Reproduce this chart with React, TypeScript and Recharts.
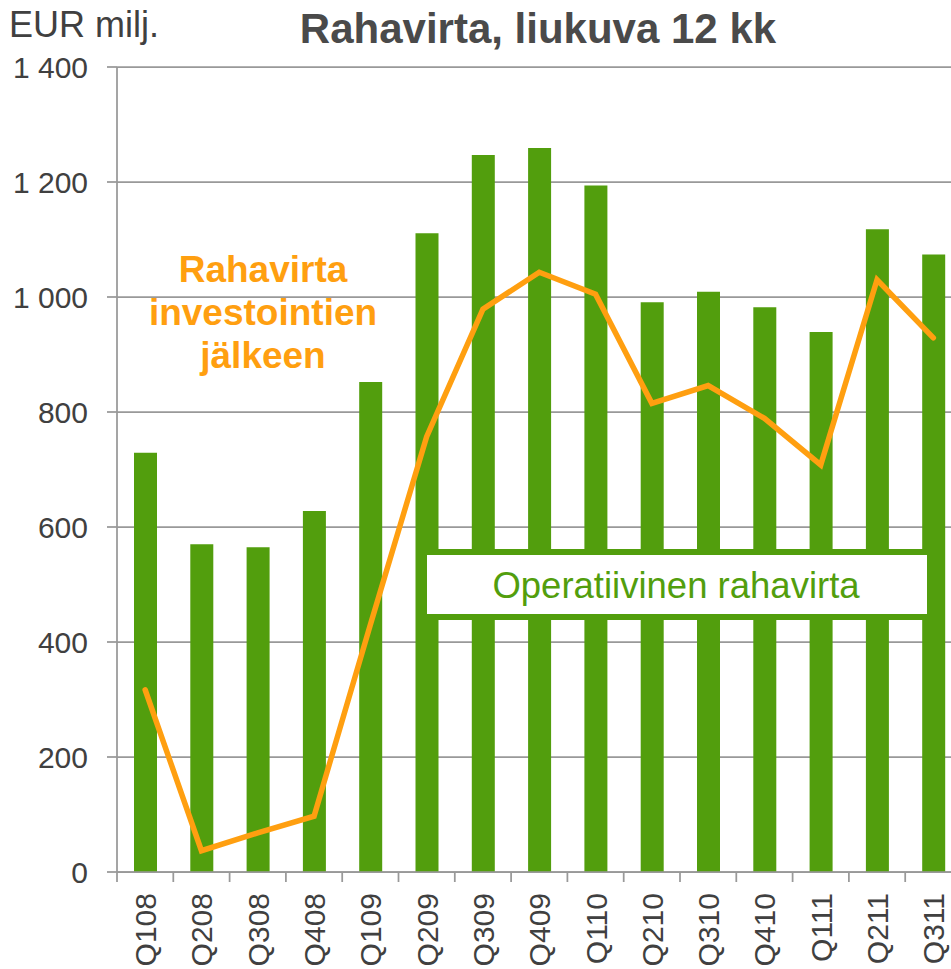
import React from "react";
import { ComposedChart, Bar, Line, XAxis, YAxis, CartesianGrid } from "recharts";

const categories = ["Q108","Q208","Q308","Q408","Q109","Q209","Q309","Q409","Q110","Q210","Q310","Q410","Q111","Q211","Q311"];
const operativeCashFlow = [729, 570, 565, 628, 852, 1111, 1247, 1259, 1194, 991, 1009, 982, 939, 1118, 1074];
const cashFlowAfterInvestments = [317, 37, 68, 97, 430, 757, 979, 1043, 1005, 815, 846, 789, 708, 1030, 929];
const yTicks = [0, 200, 400, 600, 800, 1000, 1200, 1400];

const titleText = "Rahavirta, liukuva 12 kk";
const unitText = "EUR milj.";
const lineLabel = ["Rahavirta", "investointien", "jälkeen"];
const barLabel = "Operatiivinen rahavirta";

const data = categories.map((c, i) => ({
  name: c,
  op: operativeCashFlow[i],
  after: cashFlowAfterInvestments[i],
}));

const FONT = '"Liberation Sans", Arial, sans-serif';
const GREEN = "#529E0D";
const ORANGE = "#FF9F10";
const GRAY = "#999999";
const TEXT = "#404040";

const CHART_W = 963;
const CHART_H = 969;
const Y_AXIS_W = 117;
const MARGIN = { top: 67, right: 1.5, left: 0, bottom: 0 };
const PLOT_W = CHART_W - MARGIN.right - MARGIN.left - Y_AXIS_W;
const BAND = PLOT_W / categories.length;

const fmt = (v: number) =>
  v >= 1000 ? `${Math.floor(v / 1000)} ${String(v % 1000).padStart(3, "0")}` : String(v);

const XTick = (props: any) => {
  const { x, y, payload, index } = props;
  const last = index === categories.length - 1;
  return (
    <g>
      <line x1={x - BAND / 2} x2={x - BAND / 2} y1={y} y2={y + 10} stroke={GRAY} strokeWidth={1.75} />
      {last && <line x1={x + BAND / 2} x2={x + BAND / 2} y1={y} y2={y + 10} stroke={GRAY} strokeWidth={1.75} />}
      <text
        x={x + 11}
        y={y + 21}
        transform={`rotate(-90, ${x + 11}, ${y + 21})`}
        textAnchor="end"
        fontSize={30}
        fontFamily={FONT}
        fill={TEXT}
      >
        {payload.value}
      </text>
    </g>
  );
};

export default function App() {
  return (
    <div style={{ position: "absolute", left: 0, top: 0, width: 951, height: 969, overflow: "hidden", background: "#fff" }}>
      <ComposedChart width={CHART_W} height={CHART_H} data={data} margin={MARGIN}>
        <CartesianGrid vertical={false} stroke={GRAY} strokeWidth={1.75} />
        <XAxis
          dataKey="name"
          height={97}
          tickLine={false}
          tickSize={0}
          tickMargin={0}
          interval={0}
          stroke={GRAY}
          strokeWidth={1.75}
          tick={<XTick />}
        />
        <YAxis
          width={Y_AXIS_W}
          domain={[0, 1400]}
          ticks={yTicks}
          interval={0}
          tickFormatter={fmt}
          tickSize={10}
          tickMargin={19}
          stroke={GRAY}
          strokeWidth={1.75}
          tick={{ fontSize: 30, fontFamily: FONT, fill: TEXT }}
        />
        <Bar dataKey="op" fill={GREEN} barSize={23} isAnimationActive={false} />
        <Line
          dataKey="after"
          type="linear"
          stroke={ORANGE}
          strokeWidth={5.5}
          strokeLinecap="round"
          dot={false}
          activeDot={false}
          isAnimationActive={false}
        />
      </ComposedChart>
      <svg width={951} height={969} style={{ position: "absolute", left: 0, top: 0, pointerEvents: "none" }}>
        <text x={9} y={37} fontSize={36} fontFamily={FONT} fill={TEXT}>{unitText}</text>
        <text x={538} y={43} fontSize={42} fontWeight="bold" fontFamily={FONT} fill="#4A4A4A" textAnchor="middle">{titleText}</text>
        {lineLabel.map((t, i) => (
          <text key={t} x={263} y={282 + i * 43} fontSize={37} fontWeight="bold" fontFamily={FONT} fill={ORANGE} textAnchor="middle">{t}</text>
        ))}
        <rect x={424} y={552} width={506} height={65} fill="#fff" stroke={GREEN} strokeWidth={6} />
        <text x={676} y={598} fontSize={36.5} fontFamily={FONT} fill={GREEN} textAnchor="middle">{barLabel}</text>
      </svg>
    </div>
  );
}
